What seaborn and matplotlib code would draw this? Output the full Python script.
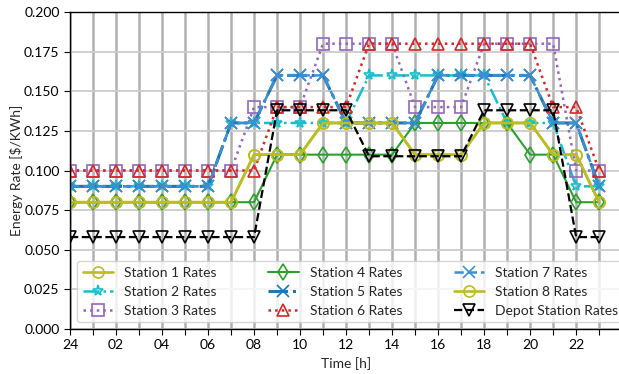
import numpy as np
import pandas as pd
import seaborn as sns
import matplotlib.pyplot as plt

hours = list(range(24))
tick_labels = ['24', '', '02', '', '04', '', '06', '', '08', '', '10', '', '12', '',
               '14', '', '16', '', '18', '', '20', '', '22', '']

station_1 = [0.08] * 8 + [0.11, 0.11, 0.11, 0.13, 0.13, 0.13, 0.13, 0.11, 0.11, 0.11,
                          0.13, 0.13, 0.13, 0.11, 0.11, 0.08]
station_2 = [0.09] * 7 + [0.13, 0.13, 0.13, 0.13, 0.13, 0.13, 0.16, 0.16, 0.16, 0.16,
                          0.16, 0.16, 0.13, 0.13, 0.13, 0.09, 0.09]
station_3 = [0.10] * 8 + [0.14, 0.14, 0.14, 0.18, 0.18, 0.18, 0.18, 0.14, 0.14, 0.14,
                          0.18, 0.18, 0.18, 0.18, 0.10, 0.10]
station_4 = [0.08] * 9 + [0.11, 0.11, 0.11, 0.11, 0.11, 0.11, 0.13, 0.13, 0.13, 0.13,
                          0.13, 0.11, 0.11, 0.08, 0.08]
station_5 = [0.09] * 7 + [0.13, 0.13, 0.16, 0.16, 0.16, 0.13, 0.13, 0.13, 0.13, 0.16,
                          0.16, 0.16, 0.16, 0.16, 0.13, 0.13, 0.09]
station_6 = [0.10] * 9 + [0.14, 0.14, 0.14, 0.14, 0.18, 0.18, 0.18, 0.18, 0.18, 0.18,
                          0.18, 0.18, 0.14, 0.14, 0.10]
station_7 = list(station_5)
station_8 = list(station_1)
depot = [0.058] * 9 + [0.138, 0.138, 0.138, 0.138, 0.109, 0.109, 0.109, 0.109, 0.109,
                       0.138, 0.138, 0.138, 0.138, 0.058, 0.058]

series = [
    ('Station 1 Rates', station_1, 'tab:olive', '-', 'o', 1.9),
    ('Station 2 Rates', station_2, 'tab:cyan', '-.', '*', 1.8),
    ('Station 3 Rates', station_3, 'tab:purple', ':', 's', 1.8),
    ('Station 4 Rates', station_4, 'tab:green', '-', 'd', 1.5),
    ('Station 5 Rates', station_5, 'tab:blue', '-.', 'x', 2.2),
    ('Station 6 Rates', station_6, 'tab:red', ':', '^', 1.8),
    ('Station 7 Rates', station_7, '#3d8fd1', '--', 'x', 1.8),
    ('Station 8 Rates', station_8, 'tab:olive', '-', 'o', 1.9),
    ('Depot Station Rates', depot, 'black', '--', 'v', 1.6),
]

sns.set_style('ticks')
plt.rcParams['font.family'] = ['Lato', 'DejaVu Sans']

fig = plt.figure(figsize=(6.19, 3.74), dpi=100)
ax = fig.add_axes([0.1131, 0.1203, 0.892, 0.8476])

for name, vals, color, ls, mk, lw in series:
    df = pd.DataFrame({'hour': hours, 'rate': vals})
    sns.lineplot(data=df, x='hour', y='rate', ax=ax, label=name, color=color,
                 linestyle=ls, linewidth=lw, marker=mk, markersize=8,
                 markerfacecolor='none', markeredgecolor=color, markeredgewidth=1.2)

ax.set_xlim(0, 24)
ax.set_ylim(0, 0.2)
ax.set_xticks(hours)
ax.set_xticklabels(tick_labels)
ax.set_yticks(np.arange(0, 0.2001, 0.025))
ax.set_yticklabels([f'{v:.3f}' for v in np.arange(0, 0.2001, 0.025)])
ax.tick_params(labelsize=10, direction='out', length=4, colors='black')
ax.grid(axis='x', color='#b0b0b0', linewidth=1.8)
ax.grid(axis='y', color='#cccccc', linewidth=1.3)
ax.set_axisbelow(True)
for s in ax.spines.values():
    s.set_color('black')
    s.set_linewidth(1.0)

ax.set_xlabel('Time [h]', fontsize=10)
ax.set_ylabel('Energy Rate [$/KWh]', fontsize=10, labelpad=1)

ax.legend(loc='lower left', ncol=3, fontsize=10, columnspacing=3.7,
          handlelength=2.2, labelspacing=0.5, framealpha=0.8, borderaxespad=0.5)

fig.savefig('out.png', dpi=100)
